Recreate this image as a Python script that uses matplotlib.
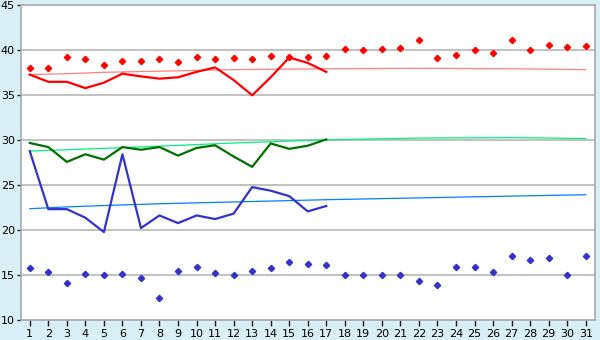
import matplotlib
matplotlib.use('Agg')
import matplotlib.pyplot as plt
import numpy as np

# colors
bg_blue    = '#d9eff6'
grid_gray  = '#b0b0b0'
red        = '#ff0000'
pink       = '#ff8080'
dark_green = '#007000'
light_grn  = '#00f080'
blue       = '#3333cc'
sky_blue   = '#0080ff'

days = list(range(1, 32))
line_days = list(range(1, 18))

# red diamonds, all month
red_points = [38.0, 38.0, 39.3, 39.0, 38.4, 38.85, 38.85, 39.0, 38.7, 39.3,
              39.0, 39.1, 39.0, 39.4, 39.3, 39.3, 39.4, 40.2, 40.0, 40.1,
              40.3, 41.2, 39.2, 39.5, 40.0, 39.75, 41.1, 40.0, 40.6, 40.4, 40.5]
# red line, days 1-17
red_line = [37.3, 36.5, 36.5, 35.8, 36.4, 37.4, 37.1, 36.85, 37.0, 37.6,
            38.1, 36.7, 35.0, 37.0, 39.2, 38.6, 37.6]
# green line, days 1-17
green_line = [29.7, 29.25, 27.6, 28.45, 27.85, 29.25, 28.95, 29.25, 28.3, 29.15,
              29.45, 28.2, 27.05, 29.65, 29.05, 29.4, 30.1]
# blue line, days 1-17
blue_line = [28.8, 22.35, 22.35, 21.4, 19.8, 28.45, 20.25, 21.65, 20.8, 21.65,
             21.25, 21.85, 24.8, 24.4, 23.8, 22.1, 22.7]
# blue diamonds, all month
blue_points = [15.85, 15.4, 14.1, 15.1, 15.0, 15.2, 14.75, 12.5, 15.5, 15.95,
               15.3, 15.0, 15.5, 15.85, 16.5, 16.3, 16.1, 15.0, 15.0, 15.0,
               15.0, 14.4, 13.95, 15.95, 15.95, 15.4, 17.1, 16.65, 16.95, 15.0, 17.1]

# trend lines read at a few days
trend_days  = [1, 3, 5, 8, 12, 17, 22, 27, 31]
red_trend   = [37.3, 37.4, 37.55, 37.68, 37.85, 37.95, 38.0, 37.95, 37.85]
green_trend = [28.8, 28.95, 29.1, 29.35, 29.7, 30.05, 30.25, 30.3, 30.2]
blue_trend  = [22.4, 22.6, 22.75, 22.95, 23.15, 23.4, 23.6, 23.8, 23.95]

fig = plt.figure(figsize=(6, 3.4), dpi=100, facecolor=bg_blue)
ax = fig.add_axes([20.5 / 600, (340 - 320.3) / 340, (595 - 20.5) / 600, 315 / 340])
ax.set_facecolor('white')

# grid
for v in range(15, 45, 5):
    ax.axhline(v, color=grid_gray, lw=1.1, zorder=0)

# trends
ax.plot(trend_days, red_trend, color=pink, lw=0.9, zorder=1)
ax.plot(trend_days, green_trend, color=light_grn, lw=0.9, zorder=1)
ax.plot(trend_days, blue_trend, color=sky_blue, lw=0.9, zorder=1)

# lines
ax.plot(line_days, red_line, color=red, lw=1.6, zorder=2)
ax.plot(line_days, green_line, color=dark_green, lw=1.6, zorder=2)
ax.plot(line_days, blue_line, color=blue, lw=1.6, zorder=2)

# points
ax.plot(days, red_points, ls='none', marker='D', ms=3.2, color=red, zorder=3)
ax.plot(days, blue_points, ls='none', marker='D', ms=3.2, color=blue, zorder=3)

ax.set_xlim(0.5, 31.5)
ax.set_ylim(10, 45)
ax.set_xticks(days)
ax.set_yticks(range(10, 50, 5))

for s in ax.spines.values():
    s.set_color('#a8a8a8')
    s.set_linewidth(1.2)

ax.tick_params(axis='x', direction='out', length=4, width=1, color='#202020',
               labelsize=8, pad=2)
ax.tick_params(axis='y', direction='out', length=3, width=1, color='#202020',
               labelsize=8, pad=1)

plt.savefig('out.png', dpi=100, facecolor=bg_blue)
